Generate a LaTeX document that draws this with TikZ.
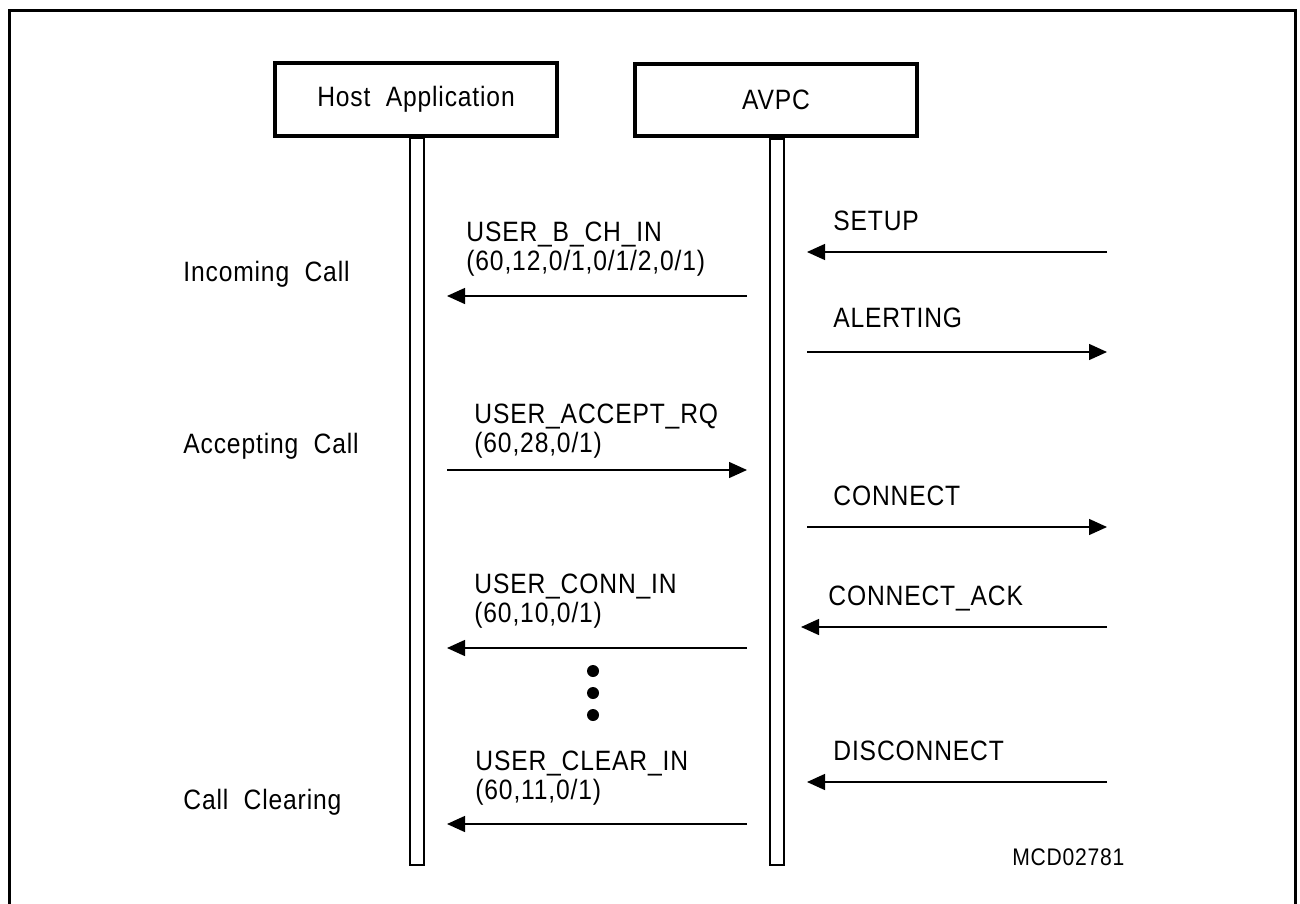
\documentclass[tikz,border=0pt]{standalone}
\usepackage{fontspec}
\setmainfont[FakeStretch=0.88,LetterSpace=3]{Liberation Sans}
\usetikzlibrary{arrows.meta}
\begin{document}
\begin{tikzpicture}[x=0.5pt,y=-0.5pt,
  party/.style={draw,line width=2pt,minimum width=141pt,minimum height=36pt,
    inner sep=0pt,font=\fontsize{14}{16}\selectfont},
  lifeline/.style={draw,line width=1pt,minimum width=7pt,inner sep=0pt},
  lbl/.style={anchor=base west,inner sep=0pt,font=\fontsize{14}{16}\selectfont},
  tag/.style={anchor=base west,inner sep=0pt,font=\fontsize{12}{14}\selectfont},
  msg/.style={line width=0.7pt,-{Triangle[length=9pt,width=8pt]}},
  dot/.style={circle,fill,inner sep=0pt,minimum size=6pt}]
  \clip (0,0) rectangle (1300,904);
  \useasboundingbox (0,0) rectangle (1300,904);
  % frame
  \draw[line width=1.5pt] (9,11) rectangle (1295,930);

  % participants and lifelines
  \node[party] (host) at (416,99.5) {Host\ \ Application};
  \node[party] (avpc) at (776,100) {AVPC};
  \node[lifeline,minimum height=363.5pt,anchor=north] (hl) at (417,137) {};
  \node[lifeline,minimum height=363pt,anchor=north] (al) at (777,138) {};

  % phase labels
  \node[lbl] (ph1) at (183,281) {Incoming\ \ Call};
  \node[lbl] (ph2) at (183,453) {Accepting\ \ Call};
  \node[lbl] (ph3) at (183,809) {Call\ \ Clearing};

  % end points on the lifelines and on the network side
  \coordinate (h1) at (447,296); \coordinate (a1) at (747,296);
  \coordinate (h2) at (447,470); \coordinate (a2) at (747,470);
  \coordinate (h3) at (447,648); \coordinate (a3) at (747,648);
  \coordinate (h4) at (447,824); \coordinate (a4) at (747,824);
  \coordinate (s1) at (807,252); \coordinate (n1) at (1107,252);
  \coordinate (s2) at (807,352); \coordinate (n2) at (1107,352);
  \coordinate (s3) at (807,527); \coordinate (n3) at (1107,527);
  \coordinate (s4) at (801,627); \coordinate (n4) at (1107,627);
  \coordinate (s5) at (807,782); \coordinate (n5) at (1107,782);

  % host <-> AVPC messages
  \node[lbl] (m1a) at (466,241) {USER\_B\_CH\_IN};
  \node[lbl] (m1b) at (466,270) {(60,12,0/1,0/1/2,0/1)};
  \draw[msg] (a1) -- (h1);

  \node[lbl] (m2a) at (474,423) {USER\_ACCEPT\_RQ};
  \node[lbl] (m2b) at (474,452) {(60,28,0/1)};
  \draw[msg] (h2) -- (a2);

  \node[lbl] (m3a) at (474,593) {USER\_CONN\_IN};
  \node[lbl] (m3b) at (474,622) {(60,10,0/1)};
  \draw[msg] (a3) -- (h3);

  \node[dot] (d1) at (593,671) {};
  \node[dot] (d2) at (593,693) {};
  \node[dot] (d3) at (593,715) {};

  \node[lbl] (m4a) at (475,770) {USER\_CLEAR\_IN};
  \node[lbl] (m4b) at (475,799) {(60,11,0/1)};
  \draw[msg] (a4) -- (h4);

  % AVPC <-> network messages
  \node[lbl] (r1) at (833,230) {SETUP};
  \draw[msg] (n1) -- (s1);
  \node[lbl] (r2) at (833,327) {ALERTING};
  \draw[msg] (s2) -- (n2);
  \node[lbl] (r3) at (833,505) {CONNECT};
  \draw[msg] (s3) -- (n3);
  \node[lbl] (r4) at (828,605) {CONNECT\_ACK};
  \draw[msg] (n4) -- (s4);
  \node[lbl] (r5) at (833,760) {DISCONNECT};
  \draw[msg] (n5) -- (s5);

  \node[tag] (code) at (1012,865) {MCD02781};
\end{tikzpicture}
\end{document}
